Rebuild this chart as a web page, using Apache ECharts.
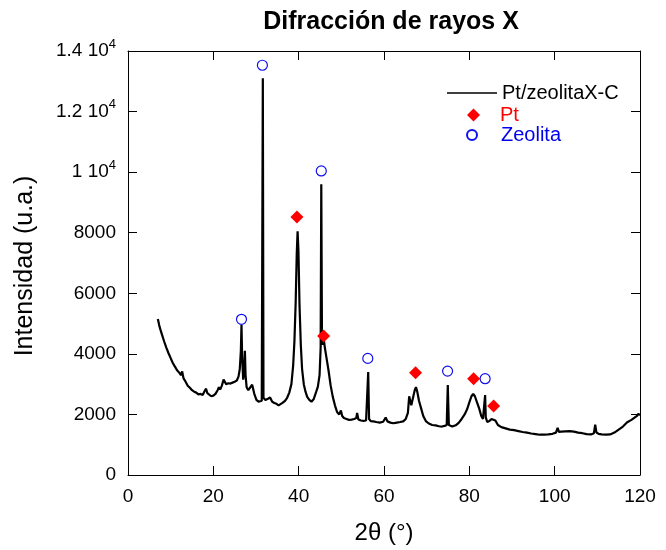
<!DOCTYPE html>
<html><head><meta charset="utf-8">
<script src="https://cdn.jsdelivr.net/npm/echarts@6/dist/echarts.min.js"></script>
<style>html,body{margin:0;padding:0;background:#fff}#c{width:666px;height:550px}</style>
</head><body><div id="c"></div>
<script>
// [2θ (°), intensidad (u.a.)]
const pattern = [
[7,5150],[7.3,4950],[7.6,4800],[8,4620],[8.5,4400],[9,4200],[9.5,4020],[10,3860],[10.5,3700],[11,3580],
[11.5,3460],[12,3380],[12.4,3300],[12.7,3420],[13,3200],[13.5,3080],[14,2950],[14.5,2880],[15,2800],[15.5,2750],
[16,2720],[16.5,2660],[17,2680],[17.5,2640],[18,2780],[18.3,2850],[18.6,2700],[19,2640],[19.5,2600],[20,2620],
[20.5,2680],[21,2800],[21.3,2900],[21.6,2820],[22,2950],[22.4,3150],[22.7,3120],[23,3000],[23.5,3030],[24,3020],
[24.5,3050],[25,3080],[25.5,3120],[25.9,3250],[26.2,3500],[26.45,4100],[26.6,4950],[26.75,3900],[27.0,3150],[27.2,3450],
[27.4,4100],[27.55,3300],[27.8,2900],[28.2,2800],[28.6,2850],[29.1,2980],[29.6,2680],[30.1,2480],[30.6,2420],[31.0,2370],
[31.35,2450],[31.45,2500],[31.6,13100],[31.75,2550],[32.2,2480],[32.8,2520],[33.3,2560],[33.8,2420],[34.3,2380],[34.8,2350],
[35.3,2300],[35.7,2260],[36.2,2380],[36.8,2450],[37.3,2550],[37.8,2720],[38.3,3000],[38.7,3600],[39.0,4400],[39.3,5700],
[39.55,7300],[39.75,8050],[39.95,7400],[40.2,5600],[40.5,4300],[40.8,3500],[41.2,3000],[41.6,2750],[42.0,2580],[42.5,2480],
[43.0,2420],[43.5,2500],[44.0,2700],[44.5,2920],[44.9,3300],[45.15,4200],[45.3,9600],[45.45,4800],[45.65,4300],[45.9,4450],
[46.2,4150],[46.6,3800],[47.0,3450],[47.5,2950],[48.0,2580],[48.5,2300],[49.0,2080],[49.5,2000],[49.9,2130],[50.2,1950],
[50.6,1880],[51.2,1850],[51.8,1820],[52.4,1830],[53.0,1850],[53.5,1880],[53.7,2050],[54.0,1830],[54.6,1800],[55.2,1790],
[55.8,1800],[56.1,1850],[56.3,3400],[56.5,1850],[56.9,1780],[57.5,1770],[58.2,1750],[59.0,1730],[59.8,1760],[60.4,1900],
[60.8,1770],[61.5,1730],[62.2,1710],[63.0,1730],[63.8,1750],[64.5,1770],[65.1,1850],[65.6,2050],[65.9,2600],[66.1,2550],
[66.4,2300],[66.8,2550],[67.2,2800],[67.5,2900],[67.8,2750],[68.2,2450],[68.7,2200],[69.2,1950],[69.8,1780],[70.5,1700],
[71.3,1650],[72.1,1640],[72.9,1610],[73.6,1600],[74.2,1620],[74.7,1650],[74.95,2970],[75.2,1650],[76.0,1600],[76.8,1640],
[77.5,1720],[78.2,1850],[78.9,2000],[79.5,2180],[80.0,2400],[80.5,2600],[80.9,2680],[81.3,2600],[81.8,2400],[82.3,2200],
[82.8,1950],[83.2,1850],[83.55,1900],[83.7,2640],[83.85,1900],[84.2,1750],[84.7,1780],[85.2,1850],[85.6,1880],[86.1,1800],
[86.7,1650],[87.5,1580],[88.5,1540],[89.5,1500],[90.5,1480],[91.5,1450],[92.5,1420],[93.5,1400],[94.5,1370],[95.5,1350],
[96.5,1330],[97.5,1330],[98.5,1340],[99.5,1360],[100.3,1400],[100.7,1560],[101.0,1420],[101.5,1430],[102.5,1440],[103.5,1450],
[104.5,1430],[105.5,1400],[106.5,1380],[107.5,1350],[108.5,1340],[109.2,1380],[109.5,1660],[109.8,1400],[110.3,1360],[111,1340],
[112,1330],[113,1340],[114,1400],[115,1500],[116,1600],[117,1740],[118,1820],[118.8,1900],[119.3,1950],[119.6,2020],[120,1980]
];
const ptPeaks = [[39.6,8520],[45.85,4590],[67.4,3380],[81.0,3180],[85.7,2280]];
const zeolitaPeaks = [[26.6,5140],[31.5,13530],[45.3,10040],[56.2,3850],[74.9,3430],[83.7,3180]];
const seriesNames = ['Pt/zeolitaX-C','Pt','Zeolita'];
const xRange = {min:0, max:120, interval:20};
const yRange = {min:0, max:14000, interval:2000};

const FONT = 'Liberation Sans, Arial, sans-serif';
const chart = echarts.init(document.getElementById('c'), null, {renderer:'canvas'});
const axisLine = {show:true, onZero:false, lineStyle:{color:'#000', width:1}};
const tick = {show:true, inside:true, length:9, lineStyle:{color:'#000', width:1}};
function yFmt(v){
  if (v >= 10000) return '{a|' + (v/10000) + ' 10}{s|4}';
  return '{a|' + v + '}';
}
const legendBase = {orient:'vertical', padding:0, selectedMode:false};
chart.setOption({
  backgroundColor:'#fff',
  animation:false,
  title:{text:'Difracción de rayos X', left:386, textAlign:'center', top:5,
    textStyle:{fontFamily:FONT, fontSize:25, fontWeight:'bold', color:'#000'}},
  grid:{left:128, right:26, top:51, bottom:75, containLabel:false},
  legend:[
    Object.assign({}, legendBase, {data:[{name:seriesNames[0], icon:'rect'}], left:447, top:83, itemWidth:50, itemHeight:1.4,
      itemStyle:{color:'#000'}, textStyle:{fontFamily:FONT, fontSize:20, color:'#000'}}),
    Object.assign({}, legendBase, {data:[{name:seriesNames[1], icon:'diamond', textStyle:{color:'#ff0000'}}], left:467, top:105,
      itemWidth:13, itemHeight:13,
      textStyle:{fontFamily:FONT, fontSize:20, color:'#ff0000', padding:[0,0,0,15]}}),
    Object.assign({}, legendBase, {data:[{name:seriesNames[2], icon:'circle', textStyle:{color:'#0000ee'}}], left:466, top:125,
      itemWidth:10, itemHeight:10,
      textStyle:{fontFamily:FONT, fontSize:20, color:'#0000ee', padding:[0,0,0,19]}})
  ],
  xAxis:[
    {type:'value', min:xRange.min, max:xRange.max, interval:xRange.interval, position:'bottom',
      axisLine, axisTick:tick, splitLine:{show:false},
      axisLabel:{margin:12, fontFamily:FONT, fontSize:19, color:'#000'},
      name:'2θ (°)', nameLocation:'middle', nameGap:46,
      nameTextStyle:{fontFamily:FONT, fontSize:24, color:'#000'}},
    {type:'value', min:xRange.min, max:xRange.max, interval:xRange.interval, position:'top',
      axisLine, axisTick:tick, splitLine:{show:false}, axisLabel:{show:false}}
  ],
  yAxis:[
    {type:'value', min:yRange.min, max:yRange.max, interval:yRange.interval, position:'left',
      axisLine, axisTick:tick, splitLine:{show:false},
      axisLabel:{margin:12, formatter:yFmt,
        rich:{a:{fontFamily:FONT, fontSize:19, color:'#000'}, s:{fontFamily:FONT, fontSize:13, color:'#000', padding:[0,0,14,0]}}},
      name:'Intensidad (u.a.)', nameLocation:'middle', nameGap:90,
      nameTextStyle:{fontFamily:FONT, fontSize:25, color:'#000', padding:[0,6,0,0]}},
    {type:'value', min:yRange.min, max:yRange.max, interval:yRange.interval, position:'right',
      axisLine, axisTick:tick, splitLine:{show:false}, axisLabel:{show:false}}
  ],
  series:[
    {name:seriesNames[0], type:'line', data:pattern, symbol:'none', showSymbol:false,
      lineStyle:{color:'#000', width:2.2}, itemStyle:{color:'#000'}, z:2},
    {name:seriesNames[1], type:'scatter', data:ptPeaks, symbol:'diamond', symbolSize:13,
      itemStyle:{color:'#ff0000', opacity:1}, z:3},
    {name:seriesNames[2], type:'scatter', data:zeolitaPeaks, symbol:'circle', symbolSize:10,
      itemStyle:{color:'rgba(255,255,255,0)', borderColor:'#1010ee', borderWidth:1.2, opacity:1}, z:3}
  ]
});
</script></body></html>
